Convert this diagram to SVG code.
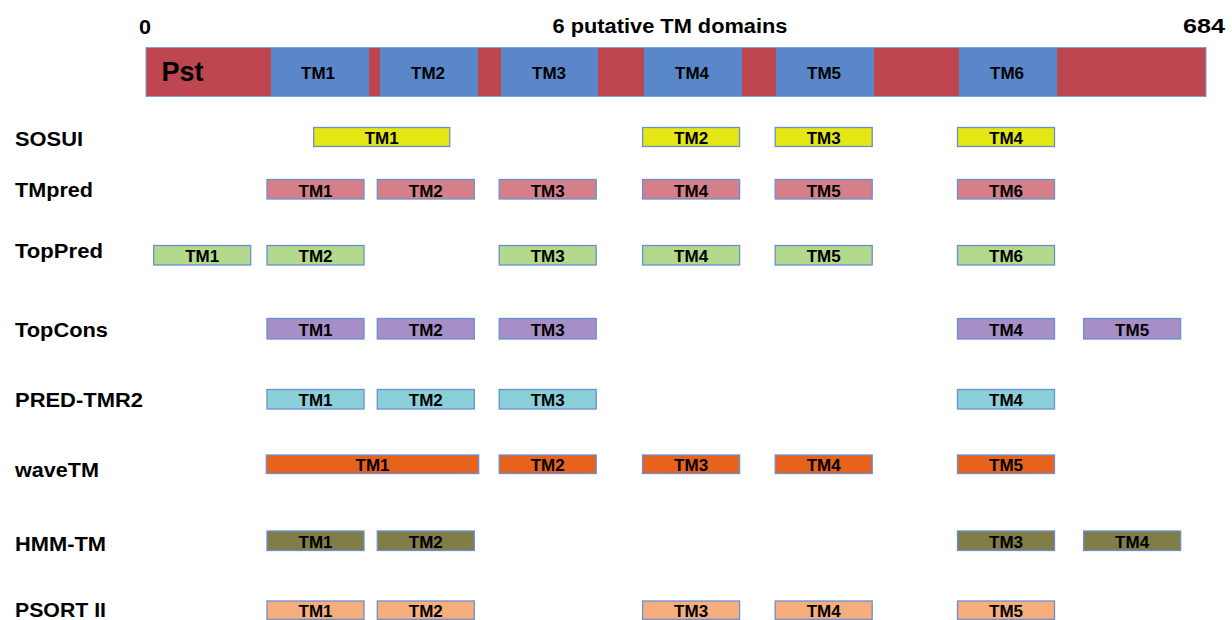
<svg xmlns="http://www.w3.org/2000/svg" width="1232" height="620" viewBox="0 0 1232 620">
<style>
text{font-family:"Liberation Sans",Arial,sans-serif;font-weight:bold;fill:#000}
.hdr{font-size:20px}
.row{font-size:20px}
.lbl{font-size:17px;text-anchor:middle}
.pst{font-size:27px}
.seg-r{fill:#BE4650}
.seg-b{fill:#5987CA}
.box{stroke:#6A8FD2;stroke-width:1.3}
.sosui{fill:#E5E714}
.tmpred{fill:#D58088}
.toppred{fill:#B3D98C}
.topcons{fill:#A68FC6}
.predtmr{fill:#8BD0D9}
.wavetm{fill:#E7631D}
.hmm{fill:#807D48}
.psort{fill:#F6AF7C}
</style>
<rect width="1232" height="620" fill="#fff"/>
<g id="header">
<text class="hdr" x="139" y="34" textLength="12" lengthAdjust="spacingAndGlyphs">0</text>
<text class="hdr" x="552.5" y="32.7" textLength="235" lengthAdjust="spacingAndGlyphs">6 putative TM domains</text>
<text class="hdr" x="1183" y="32.5" textLength="42" lengthAdjust="spacingAndGlyphs">684</text>
</g>
<g id="protein-bar">
<rect class="seg-r" x="146" y="47.5" width="125" height="49"/>
<rect class="seg-b" x="271" y="47.5" width="98" height="49"/>
<rect class="seg-r" x="369" y="47.5" width="11" height="49"/>
<rect class="seg-b" x="380" y="47.5" width="98" height="49"/>
<rect class="seg-r" x="478" y="47.5" width="23" height="49"/>
<rect class="seg-b" x="501" y="47.5" width="97" height="49"/>
<rect class="seg-r" x="598" y="47.5" width="46" height="49"/>
<rect class="seg-b" x="644" y="47.5" width="98" height="49"/>
<rect class="seg-r" x="742" y="47.5" width="34" height="49"/>
<rect class="seg-b" x="776" y="47.5" width="98" height="49"/>
<rect class="seg-r" x="874" y="47.5" width="85" height="49"/>
<rect class="seg-b" x="959" y="47.5" width="98" height="49"/>
<rect class="seg-r" x="1057" y="47.5" width="149" height="49"/>
<rect x="146" y="47.5" width="1060" height="49" fill="none" stroke="#7F9FD8" stroke-width="1"/>
<text class="pst" x="161.5" y="81.3">Pst</text>
<text class="lbl" x="318" y="79.3">TM1</text>
<text class="lbl" x="428" y="79.3">TM2</text>
<text class="lbl" x="549" y="79.3">TM3</text>
<text class="lbl" x="692" y="79.3">TM4</text>
<text class="lbl" x="824" y="79.3">TM5</text>
<text class="lbl" x="1007" y="79.3">TM6</text>
</g>
<g id="sosui">
<text class="row" x="15" y="145.7" textLength="68" lengthAdjust="spacingAndGlyphs">SOSUI</text>
<rect class="box sosui" x="313.7" y="127.5" width="136" height="19"/>
<rect class="box sosui" x="642.6" y="127.5" width="97" height="19"/>
<rect class="box sosui" x="775.2" y="127.5" width="97" height="19"/>
<rect class="box sosui" x="957.5" y="127.5" width="97" height="19"/>
<text class="lbl" x="381.7" y="143.6">TM1</text>
<text class="lbl" x="691.1" y="143.6">TM2</text>
<text class="lbl" x="823.7" y="143.6">TM3</text>
<text class="lbl" x="1006" y="143.6">TM4</text>
</g>
<g id="tmpred">
<text class="row" x="15" y="196.5" textLength="78" lengthAdjust="spacingAndGlyphs">TMpred</text>
<rect class="box tmpred" x="267" y="179.5" width="97" height="19.5"/>
<rect class="box tmpred" x="377.3" y="179.5" width="97" height="19.5"/>
<rect class="box tmpred" x="499.2" y="179.5" width="97" height="19.5"/>
<rect class="box tmpred" x="642.6" y="179.5" width="97" height="19.5"/>
<rect class="box tmpred" x="775.2" y="179.5" width="97" height="19.5"/>
<rect class="box tmpred" x="957.5" y="179.5" width="97" height="19.5"/>
<text class="lbl" x="315.5" y="197.2">TM1</text>
<text class="lbl" x="425.8" y="197.2">TM2</text>
<text class="lbl" x="547.7" y="197.2">TM3</text>
<text class="lbl" x="691.1" y="197.2">TM4</text>
<text class="lbl" x="823.7" y="197.2">TM5</text>
<text class="lbl" x="1006" y="197.2">TM6</text>
</g>
<g id="toppred">
<text class="row" x="15" y="258.3" textLength="88" lengthAdjust="spacingAndGlyphs">TopPred</text>
<rect class="box toppred" x="153.7" y="245.5" width="97" height="19.5"/>
<rect class="box toppred" x="267" y="245.5" width="97" height="19.5"/>
<rect class="box toppred" x="499.2" y="245.5" width="97" height="19.5"/>
<rect class="box toppred" x="642.6" y="245.5" width="97" height="19.5"/>
<rect class="box toppred" x="775.2" y="245.5" width="97" height="19.5"/>
<rect class="box toppred" x="957.5" y="245.5" width="97" height="19.5"/>
<text class="lbl" x="202.2" y="261.7">TM1</text>
<text class="lbl" x="315.5" y="261.7">TM2</text>
<text class="lbl" x="547.7" y="261.7">TM3</text>
<text class="lbl" x="691.1" y="261.7">TM4</text>
<text class="lbl" x="823.7" y="261.7">TM5</text>
<text class="lbl" x="1006" y="261.7">TM6</text>
</g>
<g id="topcons">
<text class="row" x="15" y="337.3" textLength="93" lengthAdjust="spacingAndGlyphs">TopCons</text>
<rect class="box topcons" x="267" y="318.5" width="97" height="20.5"/>
<rect class="box topcons" x="377.3" y="318.5" width="97" height="20.5"/>
<rect class="box topcons" x="499.2" y="318.5" width="97" height="20.5"/>
<rect class="box topcons" x="957.5" y="318.5" width="97" height="20.5"/>
<rect class="box topcons" x="1083.6" y="318.5" width="97" height="20.5"/>
<text class="lbl" x="315.5" y="336">TM1</text>
<text class="lbl" x="425.8" y="336">TM2</text>
<text class="lbl" x="547.7" y="336">TM3</text>
<text class="lbl" x="1006" y="336">TM4</text>
<text class="lbl" x="1132.1" y="336">TM5</text>
</g>
<g id="pred-tmr2">
<text class="row" x="15" y="406.7" textLength="128" lengthAdjust="spacingAndGlyphs">PRED-TMR2</text>
<rect class="box predtmr" x="267" y="389.5" width="97" height="19.5"/>
<rect class="box predtmr" x="377.3" y="389.5" width="97" height="19.5"/>
<rect class="box predtmr" x="499.2" y="389.5" width="97" height="19.5"/>
<rect class="box predtmr" x="957.5" y="389.5" width="97" height="19.5"/>
<text class="lbl" x="315.5" y="406">TM1</text>
<text class="lbl" x="425.8" y="406">TM2</text>
<text class="lbl" x="547.7" y="406">TM3</text>
<text class="lbl" x="1006" y="406">TM4</text>
</g>
<g id="wavetm">
<text class="row" x="15" y="476.7" textLength="84" lengthAdjust="spacingAndGlyphs">waveTM</text>
<rect class="box wavetm" x="266.3" y="455" width="212.4" height="18.5"/>
<rect class="box wavetm" x="499.2" y="455" width="97" height="18.5"/>
<rect class="box wavetm" x="642.6" y="455" width="97" height="18.5"/>
<rect class="box wavetm" x="775.2" y="455" width="97" height="18.5"/>
<rect class="box wavetm" x="957.5" y="455" width="97" height="18.5"/>
<text class="lbl" x="372.5" y="471">TM1</text>
<text class="lbl" x="547.7" y="471">TM2</text>
<text class="lbl" x="691.1" y="471">TM3</text>
<text class="lbl" x="823.7" y="471">TM4</text>
<text class="lbl" x="1006" y="471">TM5</text>
</g>
<g id="hmm-tm">
<text class="row" x="15" y="551" textLength="91" lengthAdjust="spacingAndGlyphs">HMM-TM</text>
<rect class="box hmm" x="267" y="531" width="97" height="19.5"/>
<rect class="box hmm" x="377.3" y="531" width="97" height="19.5"/>
<rect class="box hmm" x="957.5" y="531" width="97" height="19.5"/>
<rect class="box hmm" x="1083.6" y="531" width="97" height="19.5"/>
<text class="lbl" x="315.5" y="548.3">TM1</text>
<text class="lbl" x="425.8" y="548.3">TM2</text>
<text class="lbl" x="1006" y="548.3">TM3</text>
<text class="lbl" x="1132.1" y="548.3">TM4</text>
</g>
<g id="psort-ii">
<text class="row" x="15" y="616.5" textLength="91" lengthAdjust="spacingAndGlyphs">PSORT II</text>
<rect class="box psort" x="267" y="601" width="97" height="18.3"/>
<rect class="box psort" x="377.3" y="601" width="97" height="18.3"/>
<rect class="box psort" x="642.6" y="601" width="97" height="18.3"/>
<rect class="box psort" x="775.2" y="601" width="97" height="18.3"/>
<rect class="box psort" x="957.5" y="601" width="97" height="18.3"/>
<text class="lbl" x="315.5" y="616.5">TM1</text>
<text class="lbl" x="425.8" y="616.5">TM2</text>
<text class="lbl" x="691.1" y="616.5">TM3</text>
<text class="lbl" x="823.7" y="616.5">TM4</text>
<text class="lbl" x="1006" y="616.5">TM5</text>
</g>
<g id="connectors"></g>
</svg>
